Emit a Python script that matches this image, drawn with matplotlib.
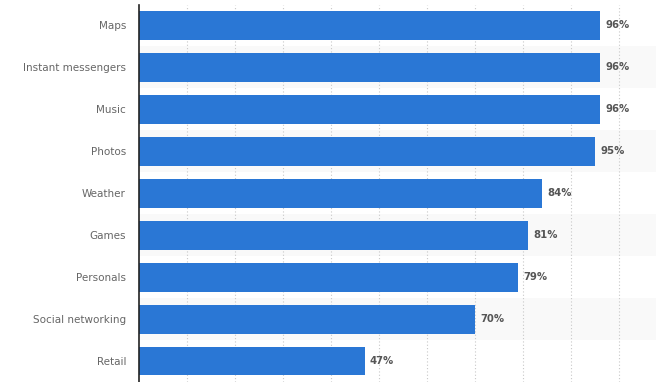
import matplotlib.pyplot as plt
import numpy as np

categories = ["Maps", "Instant messengers", "Music", "Photos", "Weather",
              "Games", "Personals", "Social networking", "Retail"]
values = [96, 96, 96, 95, 84, 81, 79, 70, 47]

fig = plt.figure(figsize=(6.56, 3.82), dpi=100)
ax = fig.add_axes([138.5 / 656, 0, 1 - 138.5 / 656, 1 - 4.5 / 382])

y = np.arange(len(categories))

# alternating row stripes
for i in y:
    if i % 2 == 1:
        ax.axhspan(i - 0.5, i + 0.5, color="#f9f9f9", zorder=0, lw=0)

ax.barh(y, values, height=0.69, color="#2a77d5", zorder=3)

for yi, v in zip(y, values):
    ax.text(v + 1.0, yi, f"{v}%", va="center", ha="left",
            fontsize=7.3, fontweight="bold", color="#555555", zorder=4)

ax.set_yticks(y)
ax.set_yticklabels(categories, fontsize=7.5, color="#666666")
ax.tick_params(axis="y", length=0, pad=9)
ax.set_ylim(len(categories) - 0.5, -0.5)

ax.set_xlim(0, 107.6)
ax.set_xticks(np.arange(10, 101, 10))
ax.tick_params(axis="x", length=0, labelbottom=False)
ax.grid(axis="x", linestyle=(0, (1, 2)), color="#c8c8c8", linewidth=0.8, zorder=1)

for s in ["top", "right", "bottom"]:
    ax.spines[s].set_visible(False)
ax.spines["left"].set_color("#222222")
ax.spines["left"].set_linewidth(1.2)
ax.spines["left"].set_zorder(5)

fig.savefig("out.png", dpi=100)
